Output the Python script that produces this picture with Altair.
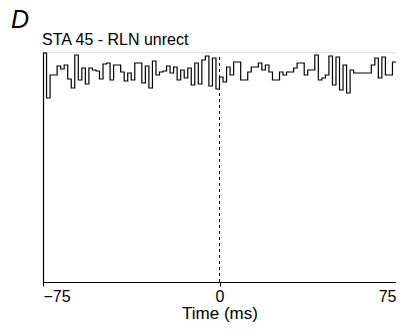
import altair as alt
import pandas as pd

# bin start times (ms), 1.5 ms bins from -75 to 75
bin_width = 1.5
n_bins = 100
# trace heights (arbitrary units, top of panel = 230)
ypix = [53, 98, 75, 75, 66, 69, 65, 79, 88, 55, 80, 68, 84, 68, 70, 71, 79,
        64, 63, 80, 65, 65, 72, 81, 73, 80, 63, 63, 83, 66, 88, 61, 75, 72, 71,
        66, 73, 67, 80, 70, 78, 68, 85, 63, 84, 60, 56, 86, 58, 89,
        77, 82, 67, 75, 62, 62, 80, 80, 72, 67, 67, 63, 70, 65, 72, 80, 80,
        72, 75, 72, 72, 68, 63, 63, 75, 70, 70, 55, 80, 78, 75, 56, 85, 57,
        90, 65, 93, 70, 73, 73, 73, 73, 73, 65, 58, 78, 57, 75, 75, 62]
values = [282 - p for p in ypix]
times = [-75 + bin_width * i for i in range(n_bins)]

df = pd.DataFrame({"t": times + [75.0], "v": values + [values[-1]]})

font = "Liberation Sans"

xscale = alt.Scale(domain=[-75, 75], nice=False, zero=False)
yscale = alt.Scale(domain=[0, 230], nice=False, zero=True)

trace = alt.Chart(df).mark_line(interpolate="step-after", color="black", strokeWidth=1.2).encode(
    x=alt.X("t:Q", scale=xscale,
            axis=alt.Axis(values=[-75, 0, 75], title="Time (ms)", labelFlush=True,
                          tickSize=4, labelPadding=2, labelFontSize=16, labelFont=font,
                          titleFont=font, titleFontSize=17, titleFontWeight="normal",
                          titlePadding=1, domainColor="black", tickColor="black",
                          labelColor="black", titleColor="black", grid=False,
                          domainWidth=1.2)),
    y=alt.Y("v:Q", scale=yscale,
            axis=alt.Axis(title=None, labels=False, ticks=False, grid=False,
                          domainColor="black", domainWidth=1.2)),
)

zero_df = pd.DataFrame({"t": [0.0], "v0": [0.0], "v1": [227.0]})
zero_line = alt.Chart(zero_df).mark_rule(color="black", strokeDash=[3, 3], strokeWidth=1).encode(
    x="t:Q", y="v0:Q", y2="v1:Q"
)

label_df = pd.DataFrame({"txt": ["D"]})
panel = alt.Chart(label_df).mark_text(
    font=font, fontSize=25, fontStyle="italic", align="left", baseline="alphabetic", color="black"
).encode(text="txt:N", x=alt.value(-32), y=alt.value(-24))

sub_df = pd.DataFrame({"txt": ["STA 45 - RLN unrect"]})
subtitle = alt.Chart(sub_df).mark_text(
    font=font, fontSize=16, align="left", baseline="alphabetic", color="black"
).encode(text="txt:N", x=alt.value(-1), y=alt.value(-7))

chart = alt.layer(trace, zero_line, panel, subtitle).properties(
    width=353, height=230,
    autosize=alt.AutoSizeParams(type="none"),
    padding={"left": 35, "top": 44, "right": 0, "bottom": 44},
).configure_view(stroke=None).configure(background="white")

chart.save("out.html", embed_options={"renderer": "svg", "actions": False})
